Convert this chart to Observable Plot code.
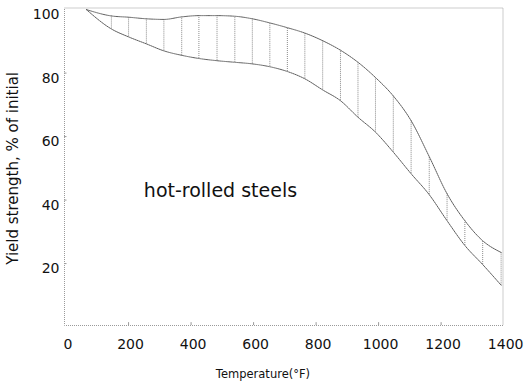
<!DOCTYPE html>
<html>
<head>
<meta charset="utf-8">
<script src="https://cdn.jsdelivr.net/npm/d3@7"></script>
<script src="https://cdn.jsdelivr.net/npm/@observablehq/plot@0.6"></script>
<style>
  html, body { margin: 0; padding: 0; background: #fff; }
  #chart svg { display: block; }
</style>
</head>
<body>
<div id="chart"></div>
<script>
// Yield strength of hot-rolled steels vs. temperature: upper and lower bounds of the band
const temperature = [65, 145, 200, 257, 313, 370, 425, 483, 540, 596, 652, 708, 764, 821, 878, 934, 990, 1047, 1104, 1162, 1219, 1276, 1333, 1392];
const upperBound  = [100, 98.0, 97.6, 97.1, 96.9, 97.7, 98.1, 98.1, 97.9, 97.1, 95.8, 94.3, 92.6, 90.2, 87.2, 83.4, 78.6, 72.8, 65.0, 53.7, 42.0, 33.5, 27.2, 23.5];
const lowerBound  = [100, 93.9, 91.4, 89.2, 87.0, 85.6, 84.6, 83.9, 83.4, 82.9, 82.0, 80.5, 78.2, 74.7, 71.3, 66.1, 61.4, 55.1, 48.3, 41.7, 33.5, 25.7, 19.7, 13.2];

const xTicks = [0, 200, 400, 600, 800, 1000, 1200, 1400];
const yTicks = [20, 40, 60, 80, 100];

const xTitle = "Temperature(°F)";
const yTitle = "Yield strength, % of initial";
const bandLabel = "hot-rolled steels";

const rows = temperature.map((t, i) => ({t, hi: upperBound[i], lo: lowerBound[i]}));
const hatch = rows.slice(1); // vertical hatching between the bounds

const font = "DejaVu Sans, Verdana, sans-serif";

const chart = Plot.plot({
  width: 528,
  height: 386,
  marginLeft: 64,
  marginRight: 25.5,
  marginTop: 7.5,
  marginBottom: 61,
  style: {fontFamily: font, color: "#111", background: "#fff"},
  x: {domain: [-5, 1398]},
  y: {domain: [0.5, 100.5]},
  marks: [
    Plot.frame({stroke: "#9a9a9a", strokeDasharray: "1 1"}),
    // small inward ticks on the frame
    Plot.ruleX(xTicks.slice(1, -1), {y1: 0.5, y2: 1.4, stroke: "#999"}),
    Plot.ruleY(yTicks.slice(0, -1), {x1: -5, x2: 3, stroke: "#999"}),
    // hatching
    Plot.ruleX(hatch, {x: "t", y1: "lo", y2: "hi", stroke: "#8a8a8a", strokeWidth: 1, strokeDasharray: "1 1"}),
    // band bounds
    Plot.line(rows, {x: "t", y: "hi", curve: "monotone-x", stroke: "#5e5e5e", strokeWidth: 1, strokeDasharray: "1.3 0.9"}),
    Plot.line(rows, {x: "t", y: "lo", curve: "monotone-x", stroke: "#5e5e5e", strokeWidth: 1, strokeDasharray: "1.3 0.9"}),
    Plot.axisX(xTicks, {tickSize: 0, tickPadding: 14, dx: 2, fontSize: 14, label: null, tickFormat: d => String(d)}),
    Plot.axisY(yTicks, {tickSize: 0, tickPadding: 5, dy: 5, fontSize: 14, label: null, tickFormat: d => String(d)}),
    Plot.text([xTitle], {x: () => 630, frameAnchor: "bottom", lineAnchor: "middle", textAnchor: "middle", dy: 49, fontSize: 11.5, fill: "#111"}),
    Plot.text([yTitle], {y: () => 50, frameAnchor: "left", textAnchor: "middle", lineAnchor: "middle", rotate: -90, dx: -51, fontSize: 15, fill: "#111"}),
    Plot.text([bandLabel], {x: () => 494, y: () => 43, fontSize: 19, fill: "#111"})
  ]
});

document.getElementById("chart").appendChild(chart);
</script>
</body>
</html>
